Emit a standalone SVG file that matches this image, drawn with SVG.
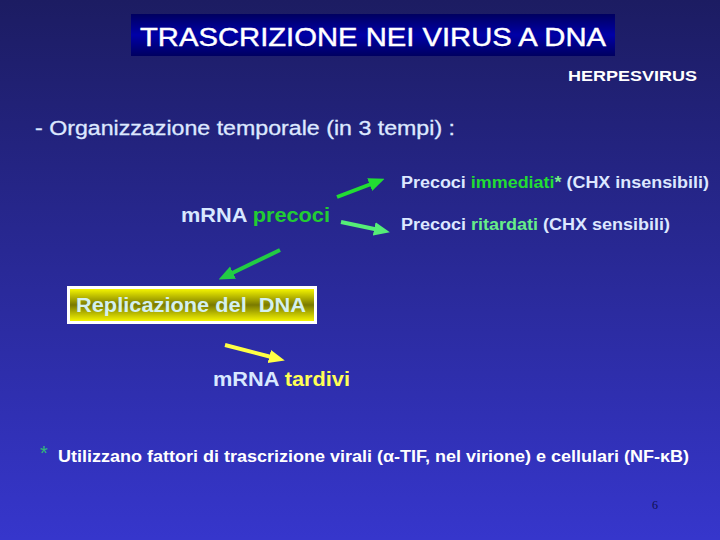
<svg xmlns="http://www.w3.org/2000/svg" width="720" height="540" viewBox="0 0 720 540">
<defs>
<linearGradient id="bg" x1="0" y1="0" x2="0" y2="1">
<stop offset="0" stop-color="#1c1c62"/>
<stop offset="1" stop-color="#3636cc"/>
</linearGradient>
<linearGradient id="tb" x1="0" y1="0" x2="0" y2="1">
<stop offset="0" stop-color="#000060"/>
<stop offset="0.5" stop-color="#0000a8"/>
<stop offset="1" stop-color="#000060"/>
</linearGradient>
<linearGradient id="yb" x1="0" y1="0" x2="0" y2="1">
<stop offset="0" stop-color="#ffff00"/>
<stop offset="0.5" stop-color="#7a7a00"/>
<stop offset="1" stop-color="#ffff00"/>
</linearGradient>
<marker id="ag1" markerWidth="4" markerHeight="4" refX="2.5" refY="2" orient="auto" markerUnits="strokeWidth"><path d="M0,0.3 L4,2 L0,3.7 z" fill="#22dd33"/></marker>
<marker id="ag2" markerWidth="4" markerHeight="4" refX="2.5" refY="2" orient="auto" markerUnits="strokeWidth"><path d="M0,0.3 L4,2 L0,3.7 z" fill="#55ee77"/></marker>
<marker id="ag3" markerWidth="4" markerHeight="4" refX="2.5" refY="2" orient="auto" markerUnits="strokeWidth"><path d="M0,0.3 L4,2 L0,3.7 z" fill="#22cc44"/></marker>
<marker id="ay" markerWidth="4" markerHeight="4" refX="2.5" refY="2" orient="auto" markerUnits="strokeWidth"><path d="M0,0.3 L4,2 L0,3.7 z" fill="#ffff44"/></marker>
</defs>
<style>
text{font-family:"Liberation Sans",Arial,sans-serif;}
.lt{fill:#dde8ff;}
.b{font-weight:bold;}
.arr{fill:none;stroke-width:4;}
</style>
<rect width="720" height="540" fill="url(#bg)"/>
<g id="title">
<rect x="131" y="14" width="484" height="42" fill="url(#tb)"/>
<text x="140" y="46" font-size="25" fill="#ffffff" stroke="#ffffff" stroke-width="0.4" textLength="466" lengthAdjust="spacingAndGlyphs">TRASCRIZIONE NEI VIRUS A DNA</text>
</g>
<g id="herpes"><text x="568" y="81" font-size="15" class="b" fill="#ffffff" textLength="129" lengthAdjust="spacingAndGlyphs">HERPESVIRUS</text></g>
<g id="org"><text x="35" y="135" font-size="20" class="lt" stroke="#dde8ff" stroke-width="0.3" textLength="420" lengthAdjust="spacingAndGlyphs">- Organizzazione temporale (in 3 tempi) :</text></g>
<g id="immediati"><text x="401" y="188" font-size="16" class="b lt" textLength="308" lengthAdjust="spacingAndGlyphs">Precoci <tspan fill="#22dd33">immediati</tspan><tspan fill="#77ee88">*</tspan> (CHX insensibili)</text></g>
<g id="precoci"><text x="181" y="222" font-size="20" class="b" textLength="149" lengthAdjust="spacingAndGlyphs"><tspan fill="#d8e8ff">mRNA </tspan><tspan fill="#22cc33">precoci</tspan></text></g>
<g id="ritardati"><text x="401" y="230" font-size="16" class="b lt" textLength="269" lengthAdjust="spacingAndGlyphs">Precoci <tspan fill="#66ee88">ritardati</tspan> (CHX sensibili)</text></g>
<g id="replicazione">
<rect x="68.5" y="287.5" width="247" height="35" fill="url(#yb)" stroke="#ffffff" stroke-width="3"/>
<text x="76" y="312" font-size="20" class="b" fill="#d4f0ee" textLength="230" lengthAdjust="spacingAndGlyphs">Replicazione del&#160; DNA</text>
</g>
<g id="tardivi"><text x="213" y="386" font-size="20" class="b" textLength="137" lengthAdjust="spacingAndGlyphs"><tspan fill="#d8e8ff">mRNA </tspan><tspan fill="#ffff55">tardivi</tspan></text></g>
<g id="connectors">
<line class="arr" x1="337" y1="197" x2="379" y2="181" stroke="#22dd33" marker-end="url(#ag1)"/>
<line class="arr" x1="341" y1="222" x2="384" y2="231" stroke="#55ee77" marker-end="url(#ag2)"/>
<line class="arr" x1="280" y1="250" x2="224" y2="277" stroke="#22cc44" marker-end="url(#ag3)"/>
<line class="arr" x1="225" y1="345" x2="279" y2="359" stroke="#ffff44" stroke-width="3" marker-end="url(#ay)"/>
</g>
<g id="footnote">
<text x="40" y="460" font-size="20" fill="#33bb77">*</text>
<text x="58" y="462" font-size="16" class="b" fill="#ffffff" textLength="631" lengthAdjust="spacingAndGlyphs">Utilizzano fattori di trascrizione virali (α-TIF, nel virione) e cellulari (NF-κB)</text>
</g>
<g id="page"><text x="652" y="509" font-size="12" fill="#101050" style="font-family:'Liberation Serif',serif">6</text></g>
</svg>
